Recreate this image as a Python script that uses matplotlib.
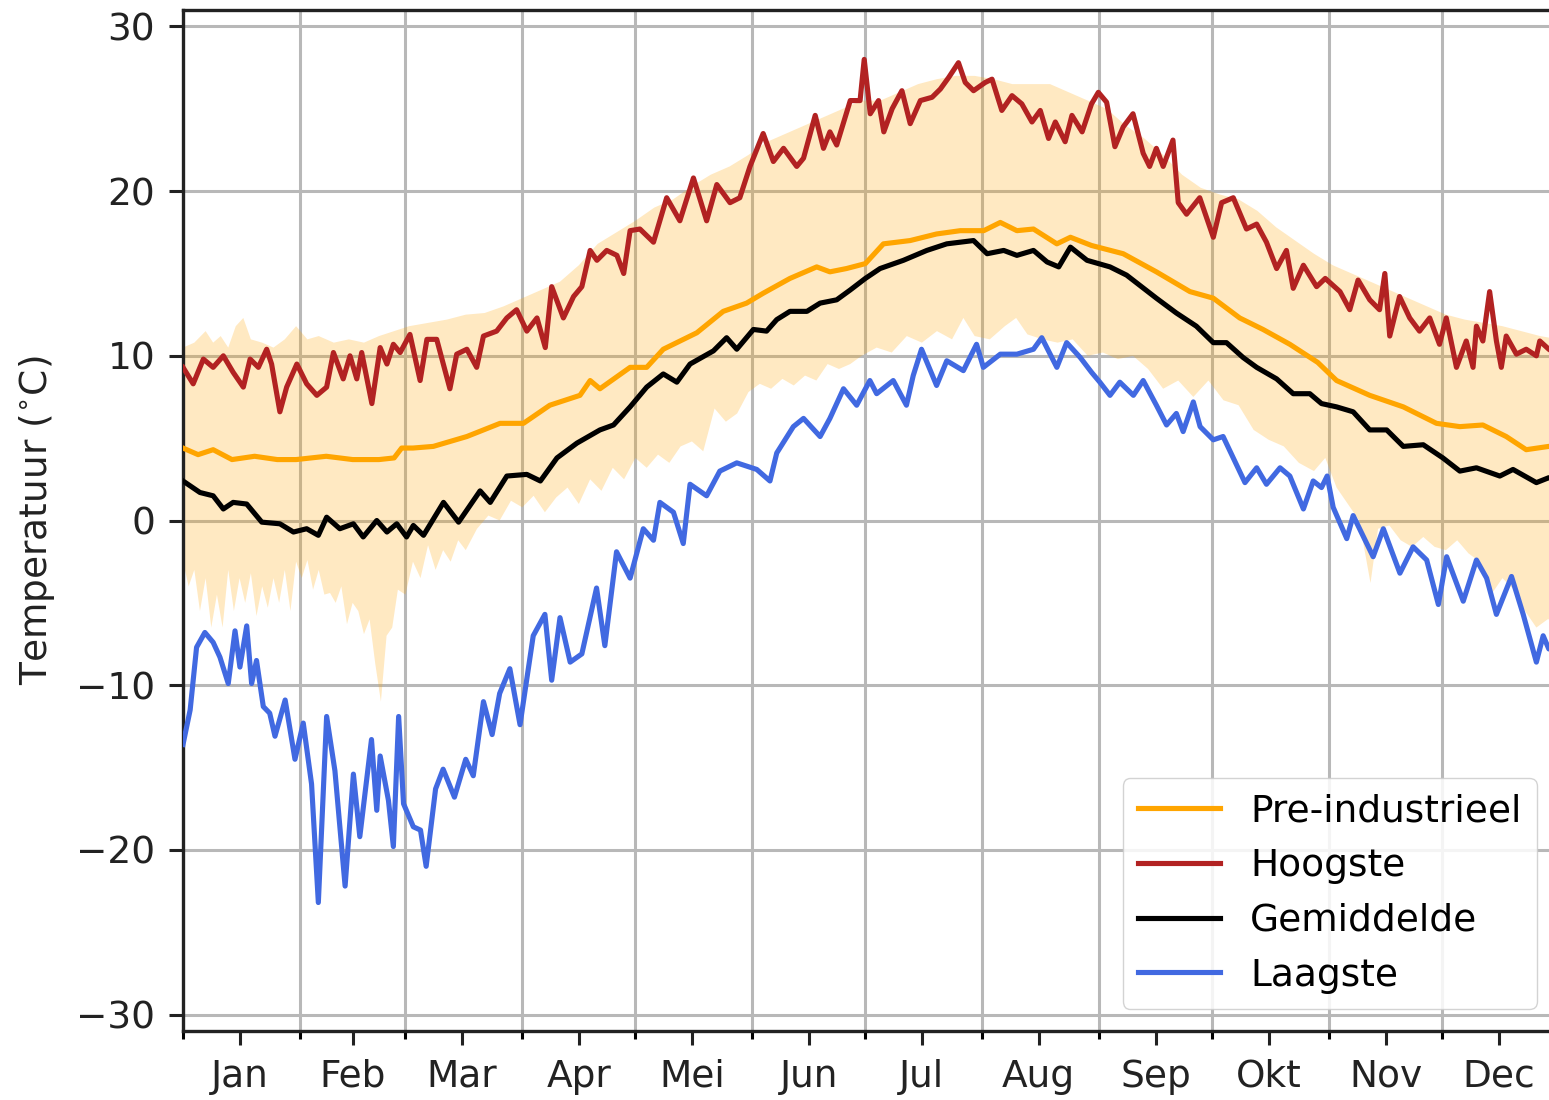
import numpy as np
import matplotlib
matplotlib.use('Agg')
import matplotlib.pyplot as plt

# ---------------- data ----------------
month_labels = ['Jan', 'Feb', 'Mar', 'Apr', 'Mei', 'Jun', 'Jul', 'Aug', 'Sep', 'Okt', 'Nov', 'Dec']
month_starts = [0, 31, 59, 90, 120, 151, 181, 212, 243, 273, 304, 334]
month_mids = [15, 45, 74, 105, 135, 166, 196, 227, 258, 288, 319, 349]
y_ticks = [-30, -20, -10, 0, 10, 20, 30]

hoog_days = [0, 2.7, 5.4, 8.0, 10.7, 13.3, 16.0, 17.8, 20.0, 22.2, 23.5, 25.7, 27.5, 30.2, 32.8, 35.5,
             38.1, 39.9, 42.5, 44.3, 46.1, 47.4, 50.1, 52.3, 54.1, 55.8, 57.6, 60.2, 62.9, 64.7, 67.3,
             70.8, 72.6, 75.3, 77.9, 79.7, 83.2, 85.9, 88.5, 91.2, 93.9, 96.1, 97.8, 100.9, 103.6,
             105.8, 108.0, 109.8, 112.4, 115.1, 116.9, 118.6, 121.2, 124.8, 128.3, 131.8, 135.4,
             138.9, 141.6, 145.1, 147.7, 150.4, 153.9, 156.6, 159.3, 162.8, 164.6, 167.7, 169.9,
             171.6, 173.4, 177.0, 179.6, 180.7, 182.3, 184.5, 185.9, 188.1, 190.7, 192.9, 195.6,
             198.7, 200.9, 203.1, 205.7, 207.5, 209.7, 212.8, 214.6, 217.2, 219.9, 222.5, 225.2,
             227.4, 229.6, 231.4, 234.0, 235.8, 238.5, 241.0, 242.8, 245.0, 247.2, 249.4, 252.0,
             254.7, 256.4, 258.2, 260.0, 262.6, 264.0, 266.2, 269.7, 273.3, 275.5, 278.6, 282.1,
             284.8, 287.4, 290.1, 292.7, 294.5, 297.2, 300.7, 303.0, 306.9, 309.5, 311.7, 314.8,
             317.4, 318.8, 320.1, 322.7, 325.4, 328.0, 330.7, 333.3, 335.1, 337.8, 340.4, 342.2,
             343.1, 344.8, 346.6, 348.4, 349.7, 351.0, 353.7, 356.3, 359.0, 359.9, 362.3, 365]
hoog_vals = [9.3, 8.3, 9.8, 9.3, 10.0, 9.0, 8.1, 9.8, 9.3, 10.4, 9.5, 6.6, 8.1, 9.5, 8.3, 7.6,
             8.1, 10.2, 8.6, 10.0, 8.6, 10.2, 7.1, 10.5, 9.5, 10.7, 10.2, 11.3, 8.5, 11.0, 11.0,
             8.0, 10.1, 10.4, 9.3, 11.2, 11.5, 12.3, 12.8, 11.5, 12.3, 10.5, 14.2, 12.3, 13.6,
             14.2, 16.4, 15.8, 16.4, 16.1, 15.0, 17.6, 17.7, 16.9, 19.6, 18.2, 20.8,
             18.2, 20.4, 19.3, 19.6, 21.5, 23.5, 21.8, 22.6, 21.5, 22.0, 24.6, 22.6,
             23.6, 22.8, 25.5, 25.5, 28.0, 24.7, 25.5, 23.6, 25.0, 26.1, 24.1, 25.5,
             25.7, 26.2, 26.9, 27.8, 26.6, 26.1, 26.6, 26.8, 24.9, 25.8, 25.3, 24.2,
             24.9, 23.2, 24.2, 23.0, 24.6, 23.6, 25.3, 26.0, 25.4, 22.7, 23.9, 24.7,
             22.3, 21.5, 22.6, 21.5, 23.1, 19.3, 18.6, 19.6, 17.2, 19.3, 19.6, 17.7,
             18.0, 16.9, 15.3, 16.4, 14.1, 15.5, 14.2, 14.7, 13.9, 12.8, 14.6, 13.4,
             12.8, 15.0, 11.2, 13.6, 12.3, 11.5, 12.3, 10.7, 12.3, 9.3, 10.9, 9.3,
             11.8, 10.9, 13.9, 10.9, 9.3, 11.2, 10.1, 10.4, 10.0, 10.9, 10.4, 10.0]

pre_days = [0, 4, 8, 13, 19, 25, 30, 38, 45, 52, 56, 58, 61, 66.4, 75.3, 84.1, 90.3, 97.3, 105.3,
            108, 110.6, 118.6, 123, 127.4, 136.3, 143.3, 149.5, 153.9, 161, 168.1, 171.6, 176, 181,
            185.8, 192.9, 199.9, 206.2, 212.4, 216.8, 221.2, 225.6, 231.8, 235.4, 241, 249.4, 258.2,
            267.1, 273.3, 280.3, 286.5, 293.6, 301, 306, 314.8, 323.7, 332.5, 338.7, 344.8, 351,
            356.3, 362.3, 365]
pre_vals = [4.4, 4.0, 4.3, 3.7, 3.9, 3.7, 3.7, 3.9, 3.7, 3.7, 3.8, 4.4, 4.4, 4.5, 5.1, 5.9, 5.9, 7.0, 7.6,
            8.5, 8.0, 9.3, 9.3, 10.4, 11.4, 12.7, 13.2, 13.8, 14.7, 15.4, 15.1, 15.3, 15.6,
            16.8, 17.0, 17.4, 17.6, 17.6, 18.1, 17.6, 17.7, 16.8, 17.2, 16.7, 16.2, 15.1,
            13.9, 13.5, 12.3, 11.6, 10.7, 9.6, 8.5, 7.6, 6.9, 5.9, 5.7, 5.8, 5.1,
            4.3, 4.5, 4.4]

gem_days = [0, 4.5, 8, 10.7, 13.3, 16.9, 20.9, 25.7, 29.3, 32.8, 35.9, 38.1, 41.6, 45.2, 47.8, 51.4,
            54.1, 56.7, 59.3, 61.1, 63.8, 69.1, 73.1, 78.8, 81.5, 85.9, 91.2, 94.8, 99.2, 104.5,
            110.6, 114.2, 118.6, 123, 127.4, 131, 134.5, 140.7, 144.2, 146.9, 151.3, 154.8, 157.5,
            161, 165.5, 169, 173.4, 177, 181, 184.9, 191.1, 197.3, 202.6, 209.7, 213.3, 217.7,
            221.2, 225.6, 229.2, 232.3, 235.4, 239.8, 245.9, 250.3, 258.2, 263.5, 268.8, 273.3,
            276.8, 281.2, 284.8, 290.1, 294.5, 298.9, 302, 306, 310.4, 314.8, 319.3, 323.7, 329,
            334.2, 338.7, 343.1, 349.3, 352.8, 359, 362.3, 365]
gem_vals = [2.4, 1.7, 1.5, 0.7, 1.1, 1.0, -0.1, -0.2, -0.7, -0.5, -0.9, 0.2, -0.5, -0.2, -1.0, 0.0,
            -0.7, -0.2, -1.0, -0.3, -0.9, 1.1, -0.1, 1.8, 1.1, 2.7, 2.8, 2.4, 3.8, 4.7,
            5.5, 5.8, 6.9, 8.1, 8.9, 8.4, 9.5, 10.3, 11.1, 10.4, 11.6, 11.5, 12.2,
            12.7, 12.7, 13.2, 13.4, 14.0, 14.7, 15.3, 15.8, 16.4, 16.8, 17.0, 16.2, 16.4,
            16.1, 16.4, 15.7, 15.4, 16.6, 15.8, 15.4, 14.9, 13.5, 12.6, 11.8, 10.8,
            10.8, 9.9, 9.3, 8.6, 7.7, 7.7, 7.1, 6.9, 6.6, 5.5, 5.5, 4.5, 4.6,
            3.8, 3.0, 3.2, 2.7, 3.1, 2.3, 2.6, 2.5]

laag_days = [0, 1.9, 3.6, 5.8, 8.0, 9.8, 12.0, 13.8, 15.1, 16.9, 18.2, 19.5, 21.3, 23.0, 24.4, 27.1,
             29.7, 31.9, 34.1, 35.9, 38.1, 40.3, 43.0, 45.2, 46.9, 50.0, 51.4, 52.3, 54.5, 55.8,
             57.2, 58.5, 61.1, 63, 64.5, 67, 69, 72, 75, 77, 79.7, 82, 84, 86.7, 89.4, 92.9, 96.0,
             97.8, 100.0, 102.7, 105.8, 109.7, 111.9, 115.0, 118.6, 122.1, 124.8, 126.5, 130.1,
             132.7, 134.5, 138.9, 142.4, 146.9, 152.2, 155.7, 157.5, 161.9, 164.6, 169.0, 171.6,
             175.2, 178.7, 182.2, 184.0, 188.4, 191.9, 193.7, 195.9, 199.9, 202.6, 207.0, 210.5,
             212.3, 216.8, 221.2, 225.6, 227.8, 231.8, 234.4, 238.0, 241.0, 243.2, 245.9, 248.5,
             252.1, 254.7, 258.2, 260.9, 263.5, 265.3, 268.0, 269.8, 273.3, 275.9, 278.6, 281.7,
             284.8, 287.4, 291.0, 293.6, 297.2, 299.8, 302.0, 303.5, 305.1, 308.7, 310.4, 315.7,
             318.4, 322.8, 326.3, 329.9, 333.0, 335.2, 339.6, 343.1, 345.8, 348.4, 352.4, 355.5,
             359.0, 360.8, 362.3, 365]
laag_vals = [-13.6, -11.5, -7.7, -6.8, -7.4, -8.3, -9.9, -6.7, -8.9, -6.4, -9.9, -8.5, -11.3, -11.7, -13.1, -10.9,
             -14.5, -12.3, -16.0, -23.2, -11.9, -15.2, -22.2, -15.4, -19.2, -13.3, -17.6, -14.3, -17.0, -19.8,
             -11.9, -17.2, -18.6, -18.8, -21.0, -16.3, -15.1, -16.8, -14.5, -15.5, -11.0, -13.0, -10.5, -9.0, -12.4, -7.0, -5.7,
             -9.7, -5.9, -8.6, -8.1, -4.1, -7.6, -1.9, -3.5, -0.5, -1.2, 1.1, 0.5,
             -1.4, 2.2, 1.5, 3.0, 3.5, 3.1, 2.4, 4.1, 5.7, 6.2, 5.1, 6.2,
             8.0, 7.0, 8.5, 7.7, 8.5, 7.0, 8.8, 10.4, 8.2, 9.7, 9.1, 10.7,
             9.3, 10.1, 10.1, 10.4, 11.1, 9.3, 10.8, 9.9, 9.0, 8.4, 7.6, 8.4,
             7.6, 8.5, 7.0, 5.8, 6.5, 5.4, 7.2, 5.7, 4.9, 5.1, 3.8, 2.3,
             3.2, 2.2, 3.2, 2.7, 0.7, 2.4, 2.0, 2.7, 0.8, -1.1, 0.3, -2.2,
             -0.5, -3.2, -1.6, -2.4, -5.1, -2.2, -4.9, -2.4, -3.5, -5.7, -3.4, -5.7,
             -8.6, -7.0, -7.8, -7.5]

premax_days = [0, 3, 6, 8, 10, 12, 14, 16, 18, 21, 24, 27, 30, 33, 36, 40, 44, 48, 52, 56, 60, 65, 70,
               75, 80, 85, 90, 95, 100, 105, 110, 115, 120, 125, 130, 135, 140, 145, 150, 155, 160,
               165, 170, 175, 180, 185, 190, 195, 200, 205, 210, 215, 220, 225, 230, 235, 240, 245,
               250, 255, 260, 265, 270, 275, 280, 285, 290, 295, 300, 305, 310, 315, 320, 325, 330,
               335, 340, 345, 350, 355, 360, 365]
premax_vals = [10.5, 10.8, 11.5, 10.8, 11.2, 10.5, 11.8, 12.3, 11.0, 10.8, 10.5, 11.0, 11.8, 11.0, 11.2,
               10.8, 11.0, 10.8, 11.2, 11.5, 11.8, 12.0, 12.2, 12.5, 12.6, 13.0, 13.5, 14.0, 14.5,
               15.5, 16.8, 17.5, 18.2, 19.0, 19.5, 20.3, 21.0, 21.5, 22.2, 23.0, 23.5, 24.0, 24.5,
               25.0, 25.5, 25.5, 26.0, 26.5, 26.8, 27.0, 27.0, 26.8, 26.5, 26.5, 26.5, 26.0, 25.5,
               25.0, 24.0, 23.2, 22.2, 21.0, 20.2, 19.8, 19.5, 18.8, 17.8, 17.0, 16.2, 15.5, 15.0,
               14.5, 14.0, 13.5, 13.0, 12.5, 12.2, 12.0, 11.8, 11.5, 11.2, 11.0]

premin_days = [0, 1.5, 3, 4.5, 6, 7.5, 9, 10.5, 12, 13.5, 15, 16.5, 18, 19.5, 21, 22.5, 24, 25.5, 27,
               28.5, 30, 31.5, 33, 34.5, 36, 37.5, 39, 40.5, 42, 43.5, 45, 46.5, 48, 49.5, 51, 52.5,
               54, 55.5, 57, 59, 61, 63, 65, 67, 69, 71, 73, 75, 78, 81, 84, 87, 90, 93, 96, 99, 102,
               105, 108, 111, 114, 117, 120, 123, 126, 129, 132, 135, 138, 141, 144, 147, 150, 153,
               156, 159, 162, 165, 168, 171, 174, 177, 180, 184, 188, 192, 196, 200, 204, 207, 210,
               214, 218, 221, 224, 228, 232, 236, 240, 244, 248, 252, 256, 260, 264, 268, 272, 276,
               280, 284, 288, 292, 296, 300, 303, 306, 309, 312, 315, 317, 320, 323, 326, 329, 332,
               335, 338, 341, 344, 347, 350, 353, 356, 359, 362, 365]
premin_vals = [-2.5, -4.0, -3.0, -5.5, -3.5, -6.5, -4.5, -6.5, -3.0, -5.5, -3.5, -5.0, -3.2, -5.8, -4.0,
               -5.3, -3.5, -5.0, -3.0, -5.5, -2.5, -3.5, -2.4, -4.2, -3.0, -4.5, -4.4, -5.0, -4.0, -6.3,
               -5.0, -5.5, -6.9, -6.0, -8.7, -11.0, -7.0, -6.5, -4.2, -4.5, -2.5, -3.5, -1.5, -3.0,
               -1.8, -2.5, -1.2, -1.8, -0.5, 0.3, 0.0, 1.2, 0.8, 1.5, 0.5, 1.4, 2.0, 1.0, 2.5, 1.8,
               3.2, 2.5, 3.8, 3.2, 4.0, 3.5, 4.5, 4.8, 4.2, 6.8, 6.0, 6.5, 7.8, 8.3, 8.0, 8.6, 8.2,
               8.8, 8.5, 9.5, 9.2, 9.5, 10.0, 10.5, 10.2, 11.2, 10.8, 11.5, 11.0, 12.3, 11.2, 11.0,
               11.8, 12.3, 11.3, 11.0, 10.8, 11.0, 10.0, 10.2, 9.8, 10.0, 9.2, 8.0, 8.5, 7.5, 8.5,
               7.3, 7.0, 5.5, 4.9, 4.5, 3.5, 3.0, 3.8, 2.0, 1.0, 0.0, -3.8, -0.5, -0.3, -1.2, -1.6,
               -1.0, -1.6, -1.8, -1.2, -2.0, -2.5, -4.5, -3.5, -4.2, -5.5, -6.5, -6.0, -6.0]

# ---------------- drawing ----------------
W, H = 1549, 1100
fig = plt.figure(figsize=(W / 100, H / 100), dpi=100)
ax = fig.add_axes([183 / W, 1 - 1031 / H, 1376 / W, 1021 / H])

ax.set_axisbelow(True)
band_x = np.concatenate([premax_days, premin_days[::-1]])
band_y = np.concatenate([premax_vals, premin_vals[::-1]])
ax.fill(band_x, band_y, color='#FFA500', alpha=0.24, lw=0, zorder=1)

lw = 3.7
ax.plot(pre_days, pre_vals, color='#FFA500', lw=lw, label='Pre-industrieel', zorder=3)
ax.plot(hoog_days, hoog_vals, color='#B22222', lw=lw, label='Hoogste', zorder=3)
ax.plot(gem_days, gem_vals, color='black', lw=lw, label='Gemiddelde', zorder=3)
ax.plot(laag_days, laag_vals, color='#4169E1', lw=lw, label='Laagste', zorder=3)

ax.set_xlim(0, 365)
ax.set_ylim(-31, 31)

ax.set_xticks(month_starts, minor=True)
ax.set_xticks(month_mids)
ax.set_xticklabels(month_labels)
ax.set_yticks(y_ticks)

ax.grid(True, which='minor', axis='x', color='#b8b8b8', lw=2.2)
ax.grid(True, which='major', axis='y', color='#b8b8b8', lw=2.2)
ax.grid(False, which='major', axis='x')

ax.tick_params(which='major', length=10, width=2.2, labelsize=27, pad=10, colors='#222222')
ax.tick_params(which='minor', length=5.5, width=2.2)
for s in ax.spines.values():
    s.set_linewidth(2.4)
    s.set_color('#222222')

ax.set_ylabel('Temperatuur ($^{\\circ}$C)', fontsize=27, labelpad=14, color='#222222')

leg = ax.legend(loc='lower right', fontsize=27, framealpha=0.85, edgecolor='#cccccc',
                handlelength=2.2, borderaxespad=0.6)
for line in leg.get_lines():
    line.set_linewidth(3.7)

fig.savefig('out.png', dpi=100)
